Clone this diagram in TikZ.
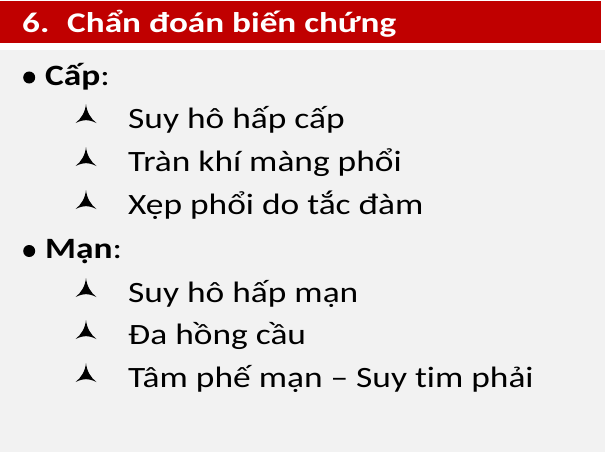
\documentclass[tikz,border=0pt]{standalone}
\usepackage{fontspec}
\setmainfont{Carlito}[Ligatures={TeX,NoCommon}]
\definecolor{hdrred}{HTML}{C00000}
\definecolor{slidebg}{HTML}{F2F2F2}
\newcommand\tipmark[1]{%
  \begin{scope}[shift={(0,#1)}]
  \fill (86,-24) .. controls (85.3,-16) and (81,-9) .. (75.5,-5)
        .. controls (80,-7.2) and (83.5,-7.8) .. (86,-7.8)
        .. controls (88.5,-7.8) and (92,-7.2) .. (96.5,-5)
        .. controls (91,-9) and (86.7,-16) .. cycle;
  \end{scope}}
\begin{document}
\begin{tikzpicture}[x=1pt,y=-1pt,
  txt/.style={anchor=base west, inner sep=0pt, xscale=1.2, transform shape, font=\fontsize{29.5}{34}\selectfont},
  ttl/.style={anchor=base west, inner sep=0pt, xscale=1.235, transform shape, text=white, font=\fontsize{28.5}{34}\selectfont\bfseries}]
\useasboundingbox (0,0) rectangle (605,452);
\fill[white] (0,0) rectangle (605,452);
\fill[slidebg] (0,50) rectangle (605,452);
\fill[hdrred] (0,1.5) rectangle (601,43);
\node[ttl] (num) at (22,33) {6.};
\node[ttl] (title) at (67,33) {Chẩn đoán biến chứng};
\fill (29.2,77.5) circle (6pt);
\node[txt] (cap) at (45,85) {\textbf{Cấp}:};
\tipmark{128}
\node[txt] (c1) at (128,128) {Suy hô hấp cấp};
\tipmark{171}
\node[txt] (c2) at (128,171) {Tràn khí màng phổi};
\tipmark{214}
\node[txt] (c3) at (128,214) {Xẹp phổi do tắc đàm};
\fill (29.2,251) circle (6pt);
\node[txt] (man) at (45,258.5) {\textbf{Mạn}:};
\tipmark{302}
\node[txt] (m1) at (128,302) {Suy hô hấp mạn};
\tipmark{344}
\node[txt] (m2) at (128,344) {Đa hồng cầu};
\tipmark{387}
\node[txt] (m3) at (128,387) {Tâm phế mạn – Suy tim phải};
\end{tikzpicture}
\end{document}
